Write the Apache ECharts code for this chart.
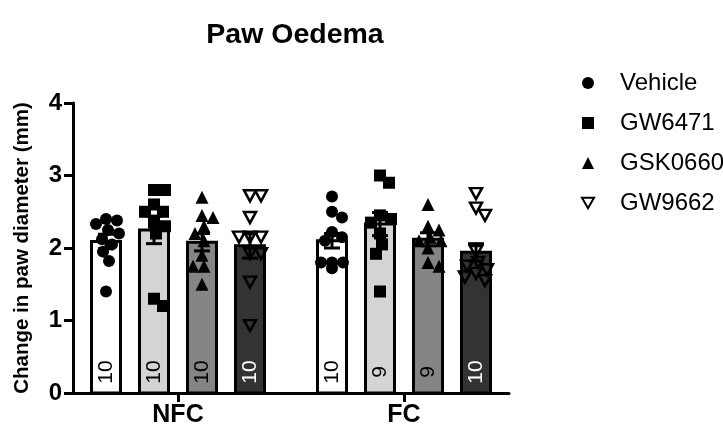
<!DOCTYPE html>
<html><head><meta charset="utf-8">
<script src="https://cdn.jsdelivr.net/npm/echarts@6/dist/echarts.min.js"></script>
<style>html,body{margin:0;padding:0;background:#fff}#c{width:723px;height:430px}</style>
</head><body><div id="c"></div>
<script>
// ---- data ----
const categories = ['NFC', 'FC'];
const treatments = ['Vehicle', 'GW6471', 'GSK0660', 'GW9662'];
const vehicleNFC = [2.40, 2.38, 2.33, 2.25, 2.20, 2.12, 2.05, 1.95, 1.82, 1.40];
const gw6471NFC  = [2.80, 2.80, 2.60, 2.50, 2.50, 2.35, 2.30, 2.20, 1.30, 1.20];
const gsk0660NFC = [2.70, 2.45, 2.42, 2.30, 2.20, 2.10, 1.90, 1.75, 1.75, 1.50];
const gw9662NFC  = [2.72, 2.72, 2.42, 2.15, 2.15, 2.15, 1.92, 1.92, 1.53, 0.93];
const vehicleFC  = [2.71, 2.50, 2.42, 2.22, 2.15, 2.10, 1.80, 1.80, 1.80, 1.72];
const gw6471FC   = [3.00, 2.90, 2.45, 2.40, 2.35, 2.20, 2.05, 1.92, 1.40];
const gsk0660FC  = [2.60, 2.30, 2.25, 2.15, 2.10, 2.10, 2.00, 1.80, 1.75];
const gw9662FC   = [2.75, 2.55, 2.45, 1.95, 1.80, 1.75, 1.70, 1.65, 1.60, 1.55];
const meanNFC = [2.09, 2.25, 2.08, 2.03];
const meanFC  = [2.10, 2.33, 2.12, 1.94];
const semNFC  = [0.10, 0.19, 0.12, 0.17];
const semFC   = [0.10, 0.16, 0.09, 0.12];
const nNFC = [10, 10, 10, 10];
const nFC  = [10, 9, 9, 10];
const yTicks = [0, 1, 2, 3, 4];

// ---- layout / style ----
const FONT = '"Liberation Sans", Arial, sans-serif';
const GRID = {left: 73, right: 214, top: 103, bottom: 37};
const PX_X = 226;
const X_MIN = -105 / PX_X, X_MAX = X_MIN + (723 - GRID.left - GRID.right) / PX_X;
const PX_Y = (430 - GRID.top - GRID.bottom) / 4;
const offsets = [-72, -24, 24, 72].map(d => d / PX_X);
const fills = ['#ffffff', '#d4d4d4', '#858585', '#333333'];
const textColors = ['#000', '#000', '#000', '#fff'];

const pts = [[vehicleNFC, gw6471NFC, gsk0660NFC, gw9662NFC], [vehicleFC, gw6471FC, gsk0660FC, gw9662FC]];
const means = [meanNFC, meanFC], sems = [semNFC, semFC], ns = [nNFC, nFC];

function swarm(vals, D) {
  const placed = [];
  return vals.map(v => {
    const y = v * PX_Y;
    let best = 0, ok = false;
    for (let k = 0; k <= 14 && !ok; k++) {
      const c = k === 0 ? [0] : [k, -k];
      for (const dx of c) {
        if (placed.every(p => (p[0] - dx) ** 2 + (p[1] - y) ** 2 >= D * D)) { best = dx; ok = true; break; }
      }
    }
    placed.push([best, y]);
    return best / PX_X;
  });
}

const barData = [], errData = [];
const scatterData = treatments.map(() => []);
categories.forEach((cat, g) => {
  treatments.forEach((t, j) => {
    const x = g + offsets[j];
    barData.push([x, means[g][j], ns[g][j], j]);
    errData.push([x, means[g][j], sems[g][j]]);
    const jit = swarm(pts[g][j], 11);
    pts[g][j].forEach((v, i) => scatterData[j].push([x + jit[i], v]));
  });
});

const DOWN_TRI = 'path://M0,0 L12,0 L6,10.4 Z';
const symbols = [
  {symbol: 'circle', symbolSize: 12, itemStyle: {color: '#000', opacity: 1}},
  {symbol: 'rect', symbolSize: 12, itemStyle: {color: '#000', opacity: 1}},
  {symbol: 'triangle', symbolSize: 13, itemStyle: {color: '#000', opacity: 1}},
  {symbol: DOWN_TRI, symbolSize: [12, 11], itemStyle: {color: 'rgba(0,0,0,0)', borderColor: '#000', borderWidth: 2.5, opacity: 1}}
];

const chart = echarts.init(document.getElementById('c'), null, {renderer: 'canvas'});
chart.setOption({
  animation: false,
  backgroundColor: '#fff',
  title: {text: 'Paw Oedema', left: 290, textAlign: 'center', top: 16,
    textStyle: {fontFamily: FONT, fontSize: 28.5, fontWeight: 'bold', color: '#000'}},
  legend: {
    orient: 'vertical', left: 576, top: 66, itemWidth: 12, itemHeight: 12, itemGap: 16,
    data: treatments,
    textStyle: {fontFamily: FONT, fontSize: 24, lineHeight: 24, color: '#000', padding: [0, 0, 0, 21]}
  },
  grid: GRID,
  xAxis: {
    type: 'value', min: X_MIN, max: X_MAX,
    axisLine: {show: true, onZero: false, lineStyle: {color: '#000', width: 3}},
    axisTick: {show: true, customValues: [0, 1], length: 9, lineStyle: {color: '#000', width: 3}},
    axisLabel: {show: true, customValues: [0, 1], formatter: v => categories[Math.round(v)],
      fontFamily: FONT, fontSize: 25, fontWeight: 'bold', color: '#000', margin: 10},
    splitLine: {show: false}
  },
  yAxis: {
    type: 'value', min: yTicks[0], max: yTicks[yTicks.length - 1], interval: 1,
    name: 'Change in paw diameter (mm)', nameLocation: 'middle', nameGap: 40,
    nameTextStyle: {fontFamily: FONT, fontSize: 20.5, fontWeight: 'bold', color: '#000'},
    axisLine: {show: true, onZero: false, lineStyle: {color: '#000', width: 3}},
    axisTick: {show: true, length: 9, lineStyle: {color: '#000', width: 3}},
    axisLabel: {fontFamily: FONT, fontSize: 24, fontWeight: 'bold', color: '#000', margin: 11},
    splitLine: {show: false}
  },
  series: [
    {
      type: 'custom', name: 'bars', z: 1, silent: true, data: barData,
      renderItem: (params, api) => {
        const x = api.value(0), m = api.value(1), n = api.value(2), j = api.value(3);
        const top = api.coord([x, m]), base = api.coord([x, 0]);
        return {type: 'group', children: [
          {type: 'rect', shape: {x: top[0] - 14.5, y: top[1], width: 29, height: base[1] - top[1]},
            style: {fill: fills[j], stroke: '#000', lineWidth: 3}},
          {type: 'text', x: top[0], y: base[1] - 21, rotation: Math.PI / 2,
            style: {text: String(n), align: 'center', verticalAlign: 'middle',
              font: '21px ' + FONT, fill: textColors[j]}}
        ]};
      }
    },
    {
      type: 'custom', name: 'err', z: 3, silent: true, data: errData,
      renderItem: (params, api) => {
        const x = api.value(0), m = api.value(1), s = api.value(2);
        const hi = api.coord([x, m + s]), lo = api.coord([x, m - s]);
        const st = {stroke: '#000', lineWidth: 3};
        return {type: 'group', children: [
          {type: 'line', shape: {x1: hi[0], y1: hi[1], x2: lo[0], y2: lo[1]}, style: st},
          {type: 'line', shape: {x1: hi[0] - 8, y1: hi[1], x2: hi[0] + 8, y2: hi[1]}, style: st},
          {type: 'line', shape: {x1: lo[0] - 8, y1: lo[1], x2: lo[0] + 8, y2: lo[1]}, style: st}
        ]};
      }
    }
  ].concat(treatments.map((t, j) => Object.assign({
    type: 'scatter', name: t, z: 2, data: scatterData[j]
  }, symbols[j])))
});
</script></body></html>
